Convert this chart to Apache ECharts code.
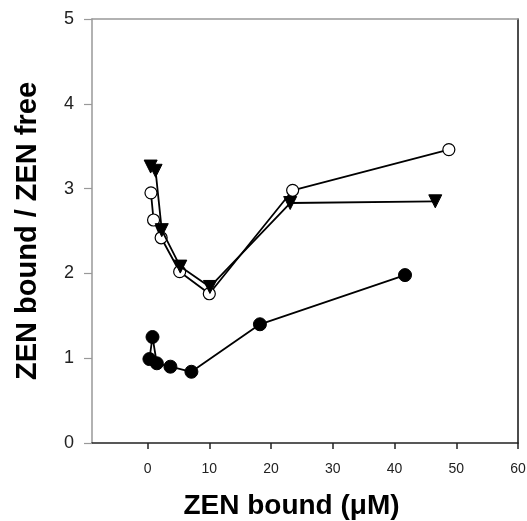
<!DOCTYPE html>
<html>
<head>
<meta charset="utf-8">
<script src="https://cdn.jsdelivr.net/npm/echarts@6/dist/echarts.min.js"></script>
<style>html,body{margin:0;padding:0;background:#fff}#c{width:527px;height:521px}</style>
</head>
<body>
<div id="c"></div>
<script>
var xTicks = [0, 10, 20, 30, 40, 50, 60];
var yTicks = [0, 1, 2, 3, 4, 5];
var filledX = [0.3, 0.8, 1.5, 3.7, 7.1, 18.2, 41.7];
var filledY = [0.99, 1.25, 0.94, 0.90, 0.84, 1.40, 1.98];
var openX = [0.55, 0.97, 2.2, 5.2, 10.0, 23.5, 48.8];
var openY = [2.95, 2.63, 2.42, 2.02, 1.76, 2.98, 3.46];
var triX = [0.5, 1.3, 2.3, 5.3, 10.1, 23.1, 46.6];
var triY = [3.26, 3.21, 2.51, 2.08, 1.84, 2.83, 2.85];

function pairs(xs, ys) { return xs.map(function (x, i) { return [x, ys[i]]; }); }

var chart = echarts.init(document.getElementById('c'));
var font = 'Liberation Sans, Arial, sans-serif';
chart.setOption({
  animation: false,
  backgroundColor: '#fff',
  grid: { left: 92, right: 9, top: 19, bottom: 78, containLabel: false, outerBoundsMode: 'none' },
  xAxis: [{
    type: 'value', min: -9, max: 60, position: 'bottom',
    name: 'ZEN bound (\u03bcM)', nameLocation: 'middle', nameGap: 49,
    nameTextStyle: { fontFamily: font, fontWeight: 'bold', fontSize: 28, color: '#000', padding: [0, 27, 0, 0] },
    axisLine: { show: true, onZero: false, lineStyle: { color: '#222', width: 1.5 } },
    axisTick: { show: true, inside: false, length: 6, lineStyle: { color: '#222', width: 1.5 }, customValues: xTicks },
    axisLabel: { fontFamily: font, fontSize: 14, color: '#222', margin: 19, customValues: xTicks },
    splitLine: { show: false }
  }, {
    type: 'value', min: -9, max: 60, position: 'top',
    axisLine: { show: true, onZero: false, lineStyle: { color: '#999', width: 1.5 } },
    axisTick: { show: false }, axisLabel: { show: false }, splitLine: { show: false }
  }],
  yAxis: [{
    type: 'value', min: 0, max: 5, interval: 1, position: 'left',
    name: 'ZEN bound / ZEN free', nameLocation: 'middle', nameGap: 50,
    nameTextStyle: { fontFamily: font, fontWeight: 'bold', fontSize: 29, color: '#000' },
    axisLine: { show: true, onZero: false, lineStyle: { color: '#999', width: 1.5 } },
    axisTick: { show: true, inside: false, length: 8, lineStyle: { color: '#999', width: 1.2 } },
    axisLabel: { fontFamily: font, fontSize: 18, color: '#222', margin: 18,
      customValues: yTicks },
    splitLine: { show: false }
  }, {
    type: 'value', min: 0, max: 5, position: 'right',
    axisLine: { show: true, onZero: false, lineStyle: { color: '#111', width: 1.5 } },
    axisTick: { show: false }, axisLabel: { show: false }, splitLine: { show: false }
  }],
  series: [{
    type: 'line', data: pairs(filledX, filledY), symbol: 'circle', symbolSize: 13,
    lineStyle: { color: '#000', width: 1.8 }, itemStyle: { color: '#000', borderColor: '#000' }, z: 3
  }, {
    type: 'line', data: pairs(openX, openY), symbol: 'circle', symbolSize: 12,
    lineStyle: { color: '#000', width: 1.8 }, itemStyle: { color: '#fff', borderColor: '#000', borderWidth: 1.2 }, z: 3
  }, {
    type: 'line', data: pairs(triX, triY), symbol: 'triangle', symbolRotate: 180, symbolSize: 13,
    lineStyle: { color: '#000', width: 1.8 }, itemStyle: { color: '#000', borderColor: '#000' }, z: 4
  }]
});
</script>
</body>
</html>
